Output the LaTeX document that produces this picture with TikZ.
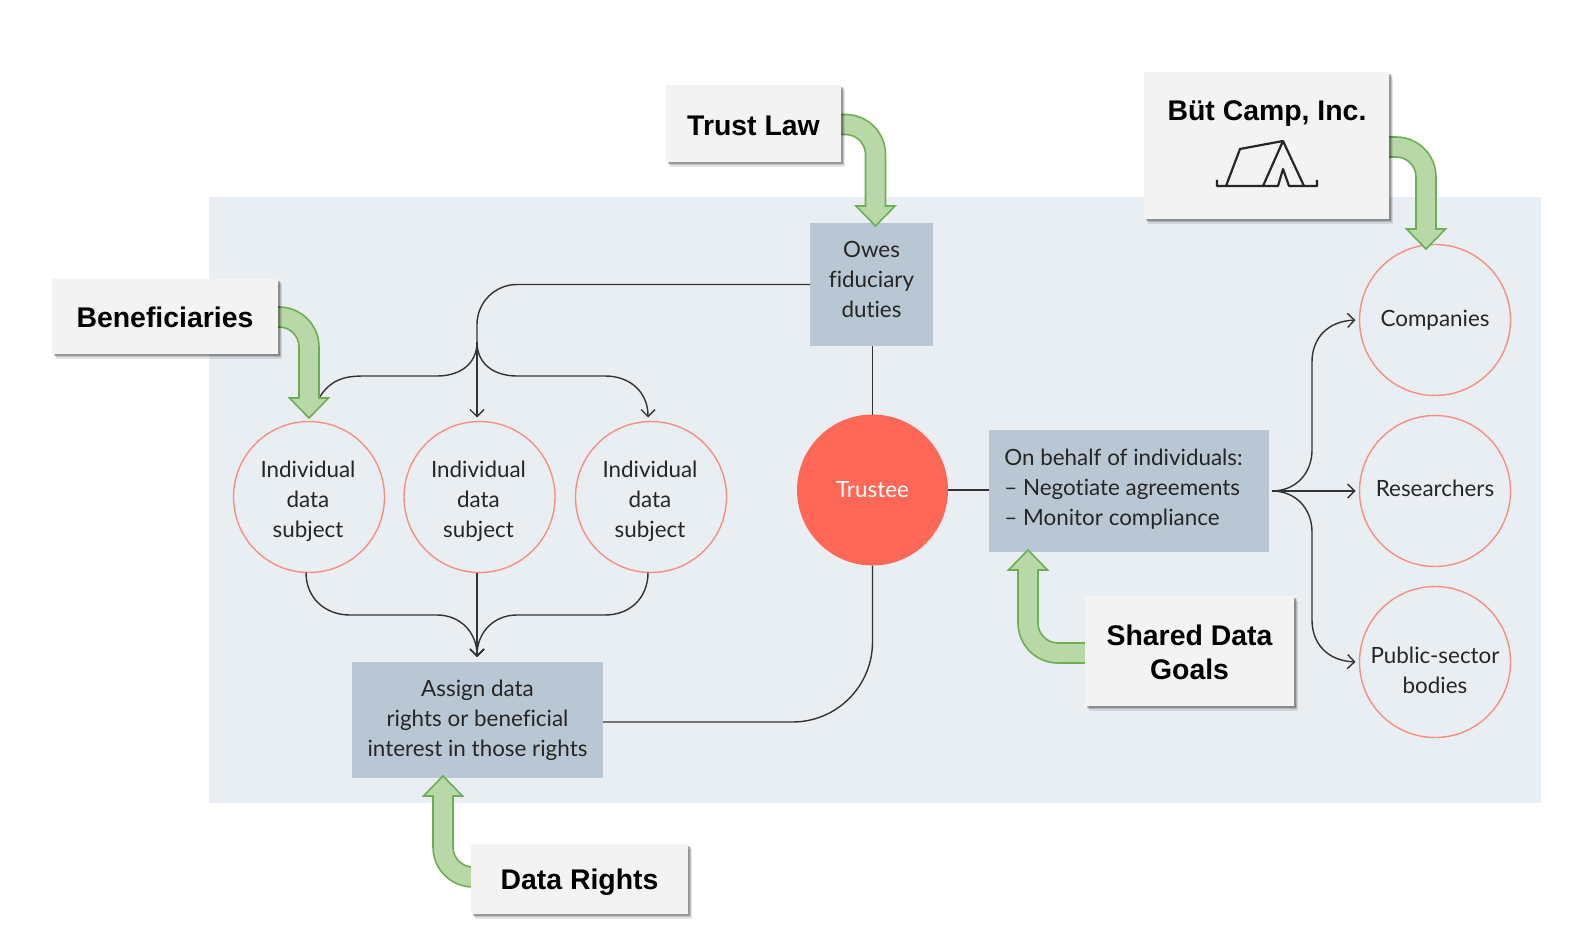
\documentclass[tikz,border=0pt]{standalone}
\usepackage{fontspec}
\setmainfont{Lato}[Ligatures=NoCommon]
\newfontfamily\labelfont{Liberation Sans}
\usetikzlibrary{%
  arrows.meta,
  shadows
}
\definecolor{panelcol}{HTML}{E9EEF2}
\definecolor{boxcol}{HTML}{B9C6D3}
\definecolor{ringcol}{HTML}{F98F82}
\definecolor{trusteecol}{HTML}{FF6757}
\definecolor{calloutcol}{HTML}{F3F3F3}
\definecolor{bentfill}{HTML}{B8D8A8}
\definecolor{bentline}{HTML}{6FAD55}
\definecolor{linecol}{HTML}{333333}
\tikzset{
  bodytext/.style={align=center,inner sep=0,text=black!85,font=\fontsize{11.2}{15}\selectfont},
  boldtext/.style={align=center,inner sep=0,text=black,font=\labelfont\bfseries\fontsize{14.2}{17}\selectfont},
  databox/.style={fill=boxcol,outer sep=0,inner sep=0},
  ring/.style={circle,draw=ringcol,line width=0.7pt,minimum size=75.5pt,outer sep=0,inner sep=0},
  callout/.style={fill=calloutcol,outer sep=0,inner sep=0,
    general shadow={shadow xshift=2.2pt,shadow yshift=-2.4pt,fill=black,opacity=0.10},
    general shadow={shadow xshift=1.5pt,shadow yshift=-1.7pt,fill=black,opacity=0.15},
    general shadow={shadow xshift=0.8pt,shadow yshift=-1pt,fill=black,opacity=0.22}},
  link/.style={draw=linecol,line width=0.7pt},
  linkto/.style={link,-{Straight Barb[length=3.5pt,width=7pt]},shorten >=2pt}
}
\begin{document}
\begin{tikzpicture}[x=0.5pt,y=-0.5pt]
  \useasboundingbox (0,0) rectangle (1574,936);
  \def\bentarrow(#1,#2)#3#4#5{
    \begin{scope}[shift={(#1,#2)},rotate=#5]
      \filldraw[draw=bentline,fill=bentfill,line width=0.8pt]
        (0,-10) [rounded corners=20pt] -- (#3+10,-10) [sharp corners] -- (#3+10,#4-20) -- (#3+19.5,#4-20)
        -- (#3,#4) -- (#3-19.5,#4-20) -- (#3-10,#4-20)
        [rounded corners=10pt] -- (#3-10,10) [sharp corners] -- (0,10);
    \end{scope}
  }
  \fill[panelcol] (209,197) rectangle (1541,803);

  \node[databox,minimum width=61.5pt,minimum height=61.5pt,
    label={[bodytext,yshift=2.3pt]center:{Owes\\fiduciary\\duties}}] (owes) at (871.5,284.5) {};
  \node[databox,minimum width=140pt,minimum height=61pt] (behalf) at (1129,491) {};
  \node[bodytext,anchor=west,align=left] (behalftext) at (1004,489) {On behalf of individuals:\\– Negotiate agreements\\– Monitor compliance};
  \node[databox,minimum width=125.5pt,minimum height=58pt,
    label={[bodytext]center:{Assign data\\rights or beneficial\\interest in those rights}}] (assign) at (477.5,720) {};

  \node[ring,label={[bodytext,xshift=-0.5pt,yshift=-2pt]center:{Individual\\data\\subject}}] (subjecta) at (309,497) {};
  \node[ring,label={[bodytext,xshift=-0.5pt,yshift=-2pt]center:{Individual\\data\\subject}}] (subjectb) at (479.5,497) {};
  \node[ring,label={[bodytext,xshift=-0.5pt,yshift=-2pt]center:{Individual\\data\\subject}}] (subjectc) at (651,497) {};
  \node[ring,label={[bodytext]center:{Companies}}] (companies) at (1435,320) {};
  \node[ring,label={[bodytext,yshift=1.5pt]center:{Researchers}}] (researchers) at (1435,491) {};
  \node[ring,label={[bodytext,yshift=-4pt]center:{Public-sector\\bodies}}] (public) at (1435,662) {};
  \node[circle,fill=trusteecol,minimum size=75.5pt,outer sep=0,inner sep=0,text=white,font=\fontsize{11.2}{15}\selectfont] (trustee) at (872.5,490) {Trustee};

  % duties down to the subjects
  \coordinate (fork) at (477,342);
  \coordinate (merge) at (477,657);
  \coordinate (spread) at (1272,491);
  \draw[link,rounded corners=20pt] (owes.west) -| (fork);
  \draw[link,shorten >=5pt] (fork) .. controls (477,364) and (460,376) .. (437,376) -- (365,376)
    .. controls (345,376) and (325,378) .. (subjecta.north);
  \draw[linkto] (fork) -- (fork|-subjectb.north);
  \draw[linkto] (fork) .. controls (477,364) and (494,376) .. (517,376) -- (605,376)
    .. controls (630,376) and (648,392) .. ([xshift=-1.5pt]subjectc.north);

  % subjects to the rights
  \draw[linkto,shorten >=0pt] ([xshift=-1.5pt]subjecta.south) .. controls (306,598) and (325,615) .. (350,615) -- (437,615)
    .. controls (460,615) and (477,632) .. (merge);
  \draw[linkto,shorten >=0pt] (merge|-subjectb.south) -- (merge);
  \draw[linkto,shorten >=0pt] ([xshift=-1.5pt]subjectc.south) .. controls (648,598) and (630,615) .. (605,615) -- (517,615)
    .. controls (494,615) and (477,632) .. (merge);

  % trustee lines
  \draw[link] (trustee.north|-owes.south) -- (trustee.north);
  \draw[link,rounded corners=40pt] (trustee.south) |- ([yshift=-1pt]assign.east);
  \draw[link] (trustee.east) -- (behalf.west|-trustee.east);

  % out to the users
  \draw[linkto] (spread) -- (researchers.west);
  \draw[linkto] (spread) .. controls (1296,491) and (1312,473) .. (1312,450) -- (1312,362)
    .. controls (1312,338) and (1328,321) .. (companies.west);
  \draw[linkto] (spread) .. controls (1296,491) and (1312,509) .. (1312,532) -- (1312,620)
    .. controls (1312,644) and (1328,661) .. (public.west);

  \bentarrow(270,317){39}{101}{0}
  \bentarrow(835,124.5){40.5}{101.5}{0}
  \bentarrow(1380,147){46}{102}{0}
  \bentarrow(1090,653){62}{103}{180}
  \bentarrow(478,877){35}{101}{180}

  \node[callout,minimum width=113pt,minimum height=37.5pt,
    label={[boldtext,yshift=-0.5pt]center:{Beneficiaries}}] (beneficiaries) at (165,316.5) {};
  \node[callout,minimum width=87.5pt,minimum height=38.5pt,
    label={[boldtext,yshift=-1pt]center:{Trust Law}}] (trustlaw) at (753.5,123.5) {};
  \node[callout,minimum width=122.5pt,minimum height=73.5pt] (camp) at (1266.5,145.5) {};
  \node[boldtext] (camptext) at (1267,114) {Büt Camp, Inc.};
  \node[callout,minimum width=104.5pt,minimum height=55pt,
    label={[boldtext,yshift=-0.5pt]center:{Shared Data\\Goals}}] (goals) at (1189.5,651) {};
  \node[callout,minimum width=108.5pt,minimum height=35pt,
    label={[boldtext,yshift=-1.5pt]center:{Data Rights}}] (rights) at (579.5,879) {};

  % tent
  \draw[black!85,line width=1.1pt,line join=round]
    (1217,180) -- (1217,186) -- (1278,186) -- (1283,169) -- (1289,186) -- (1317,186) -- (1317,180)
    (1226,186) -- (1240,149) -- (1283,141) -- (1304,186)
    (1283,141) -- (1263,186);
\end{tikzpicture}
\end{document}
